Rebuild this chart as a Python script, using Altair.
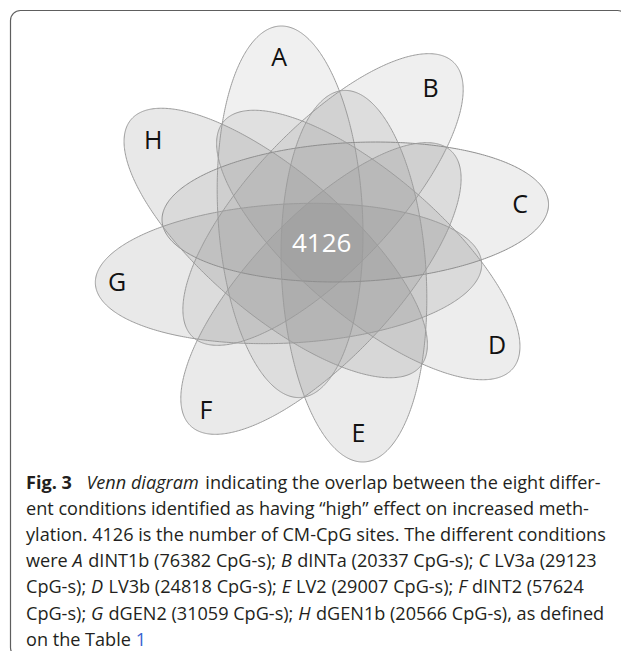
import numpy as np
import pandas as pd
import altair as alt

# ---------------- values ----------------
set_names = ["A", "B", "C", "D", "E", "F", "G", "H"]
# ellipse centres / orientation in diagram units (origin = common core)
ellipse_cx = [-30.7, 1.0, 32.0, 44.5, 30.7, -1.0, -32.2, -44.5]
ellipse_cy = [32.2, 44.5, 32.0, -1.0, -32.2, -44.5, -29.5, 1.0]
ellipse_angle = [93.0, 48.0, 2.7, -42.0, -87.0, -132.0, -176.8, 138.0]
ellipse_a = [186, 186, 186, 186, 186, 186, 186, 186]
ellipse_b = [69.5, 69.5, 69.5, 69.5, 69.5, 69.5, 69.5, 69.5]
fill_alpha = [0.12, 0.19, 0.24, 0.035, 0.05, 0.05, 0.08, 0.11]
stroke_col = ["#9c9c9c", "#9c9c9c", "#8e8e8e", "#9c9c9c", "#9c9c9c", "#9c9c9c", "#9c9c9c", "#9c9c9c"]
stroke_w = [1.0, 1.0, 2.2, 1.0, 1.0, 1.0, 1.0, 1.0]
label_x = [-41.1, 104.5, 190.4, 168.3, 35.1, -111.5, -197.1, -162.2]
label_y = [178.3, 147.3, 31.0, -110.0, -198.0, -175.0, -47.0, 95.0]
core_text = ["4126"]
core_x = [-0.3]
core_y = [-7.7]

caption_lines = [
    [("Fig. 3", "bold"), ("14", "gap"), ("Venn diagram", "italic"),
     (" indicating the overlap between the eight differ-", "regular")],
    [("ent conditions identified as having \u201chigh\u201d effect on increased meth-", "regular")],
    [("ylation. 4126 is the number of CM-CpG sites. The different conditions", "regular")],
    [("were ", "regular"), ("A", "italic"), (" dINT1b (76382 CpG-s); ", "regular"),
     ("B", "italic"), (" dINTa (20337 CpG-s); ", "regular"), ("C", "italic"),
     (" LV3a (29123", "regular")],
    [("CpG-s); ", "regular"), ("D", "italic"), (" LV3b (24818 CpG-s); ", "regular"),
     ("E", "italic"), (" LV2 (29007 CpG-s); ", "regular"), ("F", "italic"),
     (" dINT2 (57624", "regular")],
    [("CpG-s); ", "regular"), ("G", "italic"), (" dGEN2 (31059 CpG-s); ", "regular"),
     ("H", "italic"), (" dGEN1b (20566 CpG-s), as defined", "regular")],
    [("on the Table ", "regular"), ("1", "link")],
]
line_base = [488.5, 514.7, 540.9, 567.1, 593.3, 619.5, 645.7]

# ---------------- ellipse outlines ----------------
rows = []
s = np.linspace(0, np.pi, 241)
for k, n in enumerate(set_names):
    a, b = ellipse_a[k], ellipse_b[k]
    phi = np.radians(ellipse_angle[k])
    R = np.hypot(a * np.cos(phi), b * np.sin(phi))
    delta = np.arctan2(b * np.sin(phi), a * np.cos(phi))
    xs = ellipse_cx[k] + R * np.cos(s)
    t1 = s - delta
    t2 = -s - delta
    y1 = ellipse_cy[k] + a * np.cos(t1) * np.sin(phi) + b * np.sin(t1) * np.cos(phi)
    y2 = ellipse_cy[k] + a * np.cos(t2) * np.sin(phi) + b * np.sin(t2) * np.cos(phi)
    for xi, ya, yb in zip(xs, y1, y2):
        rows.append({"name": n, "u": xi, "v1": ya, "v2": yb})
outline = pd.DataFrame(rows)

labels = pd.DataFrame({"name": set_names, "u": label_x, "v": label_y})
core = pd.DataFrame({"t": core_text, "u": core_x, "v": core_y})

# ---------------- caption layout ----------------
FS = 18.1
REG = {" ": 532, "(": 606, ")": 606, ",": 502, "-": 659, ".": 545, ";": 545,
       "\u201c": 735, "\u201d": 735,
       "A": 1296, "B": 1327, "C": 1292, "D": 1493, "E": 1139, "F": 1057, "G": 1491,
       "H": 1511, "I": 571, "L": 1063, "M": 1849, "N": 1544, "T": 1133, "V": 1219,
       "a": 1139, "b": 1255, "c": 975, "d": 1255, "e": 1149, "f": 694, "g": 1122,
       "h": 1257, "i": 518, "j": 518, "k": 1075, "l": 518, "m": 1905, "n": 1257,
       "o": 1237, "p": 1255, "q": 1255, "r": 836, "s": 977, "t": 723, "u": 1257,
       "v": 1026, "w": 1593, "x": 1073, "y": 1028, "z": 977}
for d in "0123456789":
    REG[d] = 1171
BOLD = {"F": 1178, "i": 621, "g": 1147, ".": 602, " ": 532, "3": 1171}


def seg_width(text, style):
    tot = 0.0
    for ch in text:
        w = REG.get(ch, 1100)
        if style == "bold":
            w = BOLD.get(ch, w * 1.06)
        elif style == "italic":
            w = w * 0.97
        tot += w
    return tot / 2048.0 * FS


cap_rows = []
for li, segs in enumerate(caption_lines):
    x = 26.0
    for text, style in segs:
        if style == "gap":
            x += float(text)
            continue
        lead = len(text) - len(text.lstrip(" "))
        cap_rows.append({"text": text.strip(), "x": x + lead * 532 / 2048.0 * FS,
                         "y": line_base[li], "style": style})
        x += seg_width(text, style)
caption = pd.DataFrame(cap_rows)

# ---------------- scales (page pixels 8..621 x 8..651) ----------------
xs_d = alt.Scale(domain=[-301.923, 287.5], nice=False, zero=False)
ys_d = alt.Scale(domain=[-407, 236], nice=False, zero=False)
xs_p = alt.Scale(domain=[8, 621], nice=False, zero=False)
ys_p = alt.Scale(domain=[8, 651], nice=False, zero=False, reverse=True)

fills = alt.Chart(outline).mark_area(interpolate="linear", strokeWidth=0).encode(
    x=alt.X("u:Q", scale=xs_d, axis=None),
    y=alt.Y("v1:Q", scale=ys_d, axis=None, stack=None),
    y2="v2:Q",
    color=alt.Color("name:N", scale=alt.Scale(domain=set_names, range=["#848484"] * 8), legend=None),
    fillOpacity=alt.FillOpacity("name:N", scale=alt.Scale(domain=set_names, range=fill_alpha), legend=None),
)

strokes = alt.Chart(outline).mark_area(interpolate="linear", fillOpacity=0).encode(
    x=alt.X("u:Q", scale=xs_d, axis=None),
    y=alt.Y("v1:Q", scale=ys_d, axis=None, stack=None),
    y2="v2:Q",
    stroke=alt.Stroke("name:N", scale=alt.Scale(domain=set_names, range=stroke_col), legend=None),
    strokeWidth=alt.StrokeWidth("name:N", scale=alt.Scale(domain=set_names, range=stroke_w), legend=None),
)

letter_marks = alt.Chart(labels).mark_text(
    font="Open Sans", fontSize=25, color="#111111", align="center", baseline="alphabetic"
).encode(
    x=alt.X("u:Q", scale=xs_d, axis=None),
    y=alt.Y("v:Q", scale=ys_d, axis=None),
    text="name:N",
)

core_mark = alt.Chart(core).mark_text(
    font="Open Sans", fontSize=26, color="#ffffff", align="center", baseline="alphabetic"
).encode(
    x=alt.X("u:Q", scale=xs_d, axis=None),
    y=alt.Y("v:Q", scale=ys_d, axis=None),
    text="t:N",
)

diagram = alt.layer(fills, strokes, letter_marks, core_mark)

box_df = pd.DataFrame({"x0": [10.5], "x1": [627.5], "y0": [10.5], "y1": [657.5]})
box = alt.Chart(box_df).mark_rect(
    cornerRadius=10, fill="#ffffff", fillOpacity=0, stroke="#5e5e5e", strokeWidth=1.2
).encode(
    x=alt.X("x0:Q", scale=xs_p, axis=None), x2="x1:Q",
    y=alt.Y("y0:Q", scale=ys_p, axis=None), y2="y1:Q",
)


def cap_layer(style, **kw):
    return alt.Chart(caption[caption["style"] == style]).mark_text(
        font="Open Sans", fontSize=FS, align="left", baseline="alphabetic", **kw
    ).encode(
        x=alt.X("x:Q", scale=xs_p, axis=None),
        y=alt.Y("y:Q", scale=ys_p, axis=None),
        text="text:N",
    )


page = alt.layer(
    box,
    cap_layer("regular", color="#231f20"),
    cap_layer("italic", color="#231f20", fontStyle="italic"),
    cap_layer("bold", color="#231f20", fontWeight="bold"),
    cap_layer("link", color="#3a63d0"),
)

chart = alt.layer(page, diagram).resolve_scale(
    x="independent", y="independent"
).properties(
    width=613, height=643, padding=0,
    autosize=alt.AutoSizeParams(type="none"), background="white",
).configure_view(stroke=None)

chart.save("out.html", embed_options={"renderer": "svg", "actions": False})
